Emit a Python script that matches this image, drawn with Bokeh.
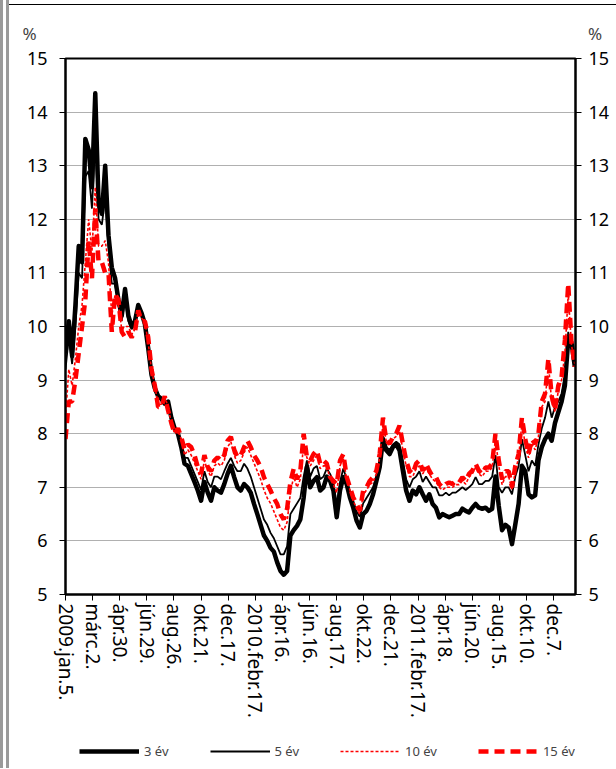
from bokeh.plotting import figure
from bokeh.layouts import column
from bokeh.models import (LinearAxis, FixedTicker, Legend, LegendItem, Label,
                          Range1d, ColumnDataSource)
from bokeh.embed import file_html
from bokeh.resources import INLINE

# trading-day index (observation number from 2009 jan. 5.)
nap = list(range(0, 771, 5))

ev3 = [9.5, 10.1, 9.45, 10.4, 11.5, 11.2, 13.5, 13.3, 12.6, 14.35,
       12.3, 12.1, 13.0, 11.7, 11.1, 10.9, 10.5, 10.2, 10.7, 10.2,
       10.0, 10.1, 10.4, 10.25, 10.05, 9.6, 9.1, 8.85, 8.7, 8.65,
       8.56, 8.6, 8.3, 8.1, 8.0, 7.75, 7.44, 7.4, 7.25, 7.1,
       6.94, 6.75, 7.1, 6.9, 6.75, 7.0, 6.94, 6.9, 7.06, 7.25,
       7.4, 7.19, 7.0, 6.94, 7.06, 7.0, 6.9, 6.69, 6.5, 6.3,
       6.1, 6.0, 5.87, 5.8, 5.6, 5.44, 5.37, 5.44, 6.1, 6.2,
       6.28, 6.4, 6.8, 7.38, 7.0, 7.12, 7.19, 6.94, 7.0, 7.2,
       7.12, 6.94, 6.44, 6.94, 7.19, 7.06, 6.81, 6.62, 6.38, 6.25,
       6.5, 6.56, 6.69, 6.87, 7.12, 7.38, 7.9, 7.69, 7.62, 7.75,
       7.8, 7.69, 7.31, 6.94, 6.75, 6.94, 6.87, 7.0, 6.87, 6.75,
       6.87, 6.69, 6.62, 6.44, 6.5, 6.47, 6.44, 6.47, 6.5, 6.5,
       6.6, 6.56, 6.53, 6.62, 6.69, 6.62, 6.6, 6.62, 6.56, 6.6,
       7.2, 6.65, 6.2, 6.3, 6.25, 5.94, 6.31, 6.69, 7.4, 7.3,
       6.87, 6.81, 6.85, 7.5, 7.75, 7.9, 8.0, 7.87, 8.2, 8.4,
       8.6, 8.9, 9.75, 9.7, 9.25]

ev5 = [9.2, 9.8, 9.3, 10.0, 11.0, 10.9, 12.8, 12.9, 12.2, 13.5,
       12.0, 11.9, 12.4, 11.5, 10.8, 10.8, 10.4, 10.1, 10.5, 10.1,
       9.95, 10.05, 10.35, 10.2, 10.05, 9.6, 9.1, 8.85, 8.65, 8.65,
       8.6, 8.55, 8.3, 8.1, 8.05, 7.85, 7.55, 7.55, 7.4, 7.25,
       7.1, 6.95, 7.3, 7.1, 7.0, 7.2, 7.2, 7.15, 7.3, 7.44,
       7.55, 7.4, 7.3, 7.3, 7.44, 7.35, 7.2, 7.0, 6.8, 6.6,
       6.4, 6.3, 6.15, 6.05, 5.9, 5.75, 5.75, 5.9, 6.5, 6.6,
       6.7, 6.8, 7.2, 7.5, 7.2, 7.35, 7.4, 7.15, 7.2, 7.35,
       7.25, 7.1, 6.65, 7.1, 7.35, 7.15, 6.9, 6.75, 6.55, 6.45,
       6.7, 6.8, 6.9, 7.0, 7.2, 7.45, 7.95, 7.75, 7.7, 7.8,
       7.85, 7.8, 7.5, 7.15, 7.0, 7.15, 7.2, 7.3, 7.1, 7.2,
       7.1, 7.0, 7.0, 6.85, 6.85, 6.9, 6.85, 6.9, 6.9, 6.95,
       7.0, 6.95, 7.0, 7.06, 7.19, 7.06, 7.06, 7.12, 7.12, 7.2,
       7.6, 7.0, 6.9, 7.0, 7.0, 6.87, 7.2, 7.4, 7.9, 7.6,
       7.3, 7.5, 7.4, 7.8, 8.1, 8.3, 8.6, 8.3, 8.5, 8.6,
       8.75, 9.1, 9.9, 9.6, 9.3]

ev10 = [8.3, 9.2, 8.9, 9.4, 10.0, 10.4, 11.2, 12.0, 11.4, 12.6,
        11.5, 11.5, 11.6, 11.2, 10.2, 10.6, 10.4, 9.95, 10.0, 10.0,
        9.85, 9.95, 10.3, 10.15, 10.1, 9.7, 9.2, 8.9, 8.55, 8.55,
        8.7, 8.5, 8.2, 8.0, 8.05, 7.9, 7.6, 7.7, 7.6, 7.45,
        7.3, 7.15, 7.5, 7.3, 7.2, 7.4, 7.45, 7.4, 7.5, 7.75,
        7.85, 7.6, 7.45, 7.5, 7.65, 7.75, 7.6, 7.45, 7.3, 7.15,
        6.95, 6.8, 6.7, 6.55, 6.4, 6.25, 6.2, 6.35, 6.9, 7.2,
        7.0, 7.15, 7.8, 7.55, 7.4, 7.5, 7.6, 7.35, 7.4, 7.4,
        7.15, 7.05, 6.9, 7.4, 7.55, 7.15, 6.95, 6.75, 6.6, 6.5,
        6.85, 6.95, 7.05, 7.1, 7.25, 7.55, 8.2, 7.85, 7.8, 7.9,
        7.95, 8.05, 7.7, 7.4, 7.2, 7.2, 7.35, 7.4, 7.25, 7.35,
        7.25, 7.15, 7.1, 7.0, 6.95, 7.0, 7.0, 7.0, 7.05, 7.05,
        7.12, 7.06, 7.19, 7.25, 7.37, 7.25, 7.2, 7.3, 7.3, 7.37,
        7.9, 7.4, 7.05, 7.2, 7.2, 6.95, 7.3, 7.55, 8.2, 7.8,
        7.55, 7.8, 7.7, 7.95, 8.5, 8.6, 9.3, 8.6, 8.4, 8.8,
        9.0, 9.5, 10.6, 9.65, 9.3]

ev15 = [7.9, 8.6, 8.6, 9.0, 9.5, 10.0, 10.5, 11.6, 10.9, 12.2,
        11.2, 11.2, 11.0, 11.0, 9.9, 10.6, 10.5, 9.9, 9.8, 9.9,
        9.8, 9.9, 10.3, 10.1, 10.1, 9.8, 9.2, 8.9, 8.5, 8.5,
        8.7, 8.44, 8.2, 8.0, 8.1, 7.94, 7.7, 7.8, 7.75, 7.6,
        7.38, 7.25, 7.6, 7.38, 7.3, 7.5, 7.56, 7.5, 7.6, 7.87,
        7.94, 7.7, 7.56, 7.6, 7.75, 7.87, 7.75, 7.6, 7.5, 7.38,
        7.19, 7.06, 6.94, 6.8, 6.69, 6.5, 6.4, 6.6, 7.1, 7.35,
        7.15, 7.3, 8.0, 7.56, 7.5, 7.62, 7.69, 7.44, 7.5, 7.44,
        7.19, 7.12, 7.06, 7.5, 7.62, 7.2, 7.0, 6.81, 6.69, 6.56,
        6.94, 7.0, 7.12, 7.19, 7.31, 7.62, 8.3, 7.87, 7.81, 7.94,
        8.0, 8.15, 7.81, 7.5, 7.31, 7.25, 7.44, 7.5, 7.31, 7.44,
        7.31, 7.2, 7.19, 7.06, 7.0, 7.06, 7.09, 7.06, 7.12, 7.09,
        7.19, 7.12, 7.25, 7.31, 7.44, 7.31, 7.25, 7.37, 7.37, 7.44,
        8.0, 7.5, 7.15, 7.3, 7.3, 7.0, 7.4, 7.62, 8.3, 7.9,
        7.62, 7.9, 7.81, 8.0, 8.6, 8.75, 9.4, 8.7, 8.45, 8.9,
        9.06, 9.75, 10.8, 9.69, 9.25]

tick_nap = [0, 41, 82, 123, 164, 205, 246, 287, 328, 369,
            410, 451, 492, 533, 574, 615, 656, 697, 738]
tick_labels = ["2009.jan.5.", "márc.2.", "ápr.30.", "jún.29.", "aug.26.",
               "okt.21.", "dec.17.", "2010.febr.17.", "ápr.16.", "jún.16.",
               "aug.17.", "okt.22.", "dec.21.", "2011.febr.17.", "ápr.18.",
               "jún.20.", "aug.15.", "okt.10.", "dec.7."]
y_ticks = [5, 6, 7, 8, 9, 10, 11, 12, 13, 14, 15]
series_names = ["3 év", "5 év", "10 év", "15 év"]

FONT = "Noto Sans"

src = ColumnDataSource(dict(x=nap, a=ev3, b=ev5, c=ev10, d=ev15))

p = figure(width=607, height=730, x_range=Range1d(0, 771), y_range=Range1d(5, 15),
           output_backend="svg", toolbar_location=None,
           min_border_left=56, min_border_right=41, min_border_top=53,
           min_border_bottom=141)

p.outline_line_color = "black"
p.outline_line_width = 2
p.outline_line_alpha = 1
p.background_fill_color = "white"
p.border_fill_color = "white"

p.xgrid.visible = False
p.ygrid.ticker = FixedTicker(ticks=y_ticks)
p.ygrid.grid_line_color = "#606060"
p.ygrid.grid_line_dash = "1 1"
p.ygrid.grid_line_width = 1

STY = [dict(line_color="black", line_width=4.5, line_join="round"),
       dict(line_color="black", line_width=1.8),
       dict(line_color="#ff0000", line_width=1.6, line_dash="3 2"),
       dict(line_color="#ff0000", line_width=4.5, line_dash="10 6")]

rends = [p.line("x", c, source=src, **s) for c, s in zip("abcd", STY)]

# x axis
xa = p.xaxis[0]
xa.ticker = FixedTicker(ticks=tick_nap)
xa.major_label_overrides = {t: l for t, l in zip(tick_nap, tick_labels)}
xa.major_label_orientation = "vertical"
xa.major_label_text_font = FONT
xa.major_label_text_font_size = "19px"
xa.major_label_text_color = "black"
xa.major_tick_out = 6
xa.major_tick_in = 0
xa.minor_tick_out = 0
xa.minor_tick_in = 0
xa.axis_line_width = 2
xa.major_tick_line_width = 1
xa.major_label_standoff = 3

# left and right y axes
ya = p.yaxis[0]
yr = LinearAxis()
p.add_layout(yr, "right")
for ax, so in ((ya, 12), (yr, 7)):
    ax.ticker = FixedTicker(ticks=y_ticks)
    ax.major_label_text_font = FONT
    ax.major_label_text_font_size = "18px"
    ax.major_label_text_color = "black"
    ax.major_tick_out = 6
    ax.major_tick_in = 0
    ax.minor_tick_out = 0
    ax.minor_tick_in = 0
    ax.axis_line_width = 2
    ax.major_label_standoff = so

# "%" labels above the two value axes
p.add_layout(Label(x=-65, y=15.47, text="%", text_font=FONT, text_font_size="17px",
                   text_baseline="middle", text_align="left"), "above")
p.add_layout(Label(x=790, y=15.47, text="%", text_font=FONT, text_font_size="17px",
                   text_baseline="middle", text_align="left"), "above")

# legend strip (its lines use the same data, lying outside this strip's ranges)
p2 = figure(width=607, height=33, x_range=Range1d(-2, -1), y_range=Range1d(0, 1),
            output_backend="svg", toolbar_location=None,
            x_axis_type=None, y_axis_type=None,
            min_border_left=0, min_border_right=0, min_border_top=0,
            min_border_bottom=0)
p2.outline_line_color = None
p2.xgrid.visible = False
p2.ygrid.visible = False
lr = [p2.line("x", c, source=src, **s) for c, s in zip("abcd", STY)]
legend = Legend(items=[LegendItem(label=n, renderers=[r]) for n, r in
                       zip(series_names, lr)],
                orientation="horizontal", location=(14, 7),
                glyph_width=60, glyph_height=20, padding=2, margin=0,
                label_text_font=FONT, label_text_font_size="13px",
                spacing=41, label_standoff=5, border_line_color=None,
                background_fill_alpha=0)
p2.add_layout(legend, "center")

inner = column(p, p2, spacing=0, margin=(4, 0, 0, 0),
               styles={"border-top": "1px solid #000000"})
layout = column(inner, spacing=0,
                styles={"border-left": "9px double #9a9a9a"})

open("out.html", "w").write(file_html(layout, INLINE))
